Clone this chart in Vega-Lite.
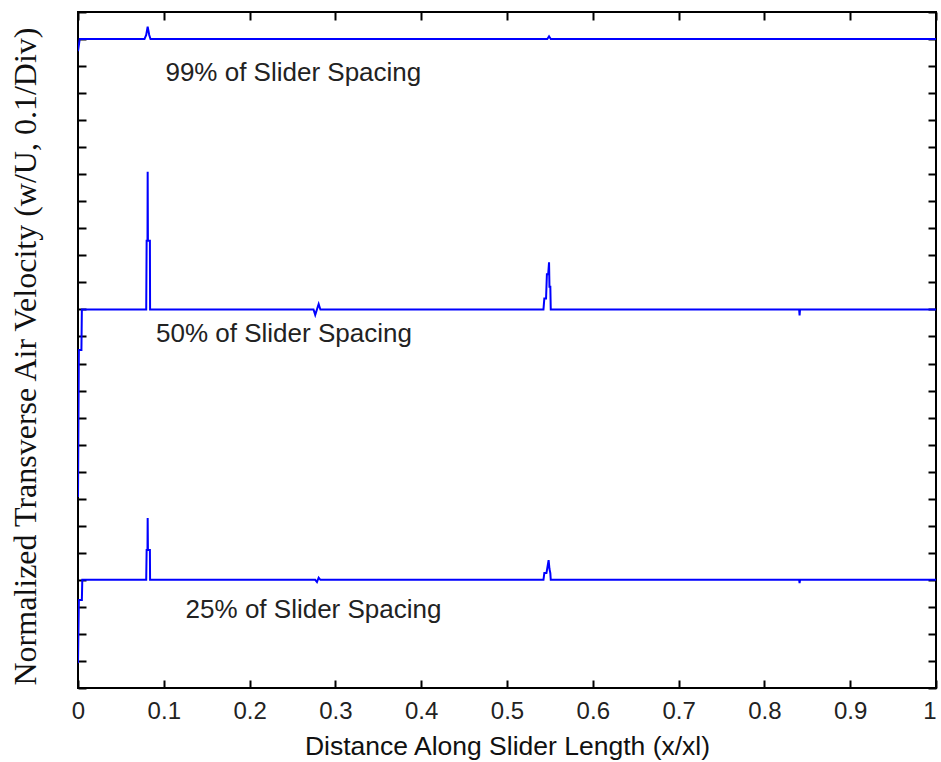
{
  "$schema": "https://vega.github.io/schema/vega-lite/v6.json",
  "width": 858,
  "height": 676,
  "autosize": {"type": "none"},
  "padding": {"left": 78, "top": 12, "right": 5, "bottom": 74},
  "background": "white",
  "config": {
    "view": {"stroke": "#000000", "strokeWidth": 2},
    "axis": {
      "domain": false,
      "grid": false,
      "tickColor": "#000000",
      "tickWidth": 2,
      "tickSize": -8,
      "labelFont": "Liberation Sans",
      "labelFontSize": 24,
      "labelColor": "#222222",
      "titleColor": "#111111",
      "titleFontWeight": "normal"
    }
  },
  "datasets": {
    "traces": [
      {"series": "99%", "x": 0, "v": 2.355},
      {"series": "99%", "x": 0.002, "v": 2.4},
      {"series": "99%", "x": 0.0775, "v": 2.4},
      {"series": "99%", "x": 0.0795, "v": 2.415},
      {"series": "99%", "x": 0.0812, "v": 2.446},
      {"series": "99%", "x": 0.083, "v": 2.415},
      {"series": "99%", "x": 0.0845, "v": 2.4},
      {"series": "99%", "x": 0.547, "v": 2.4},
      {"series": "99%", "x": 0.549, "v": 2.41},
      {"series": "99%", "x": 0.551, "v": 2.4},
      {"series": "99%", "x": 1, "v": 2.4},

      {"series": "50%", "x": 0, "v": 0.706},
      {"series": "50%", "x": 0.001, "v": 1.25},
      {"series": "50%", "x": 0.004, "v": 1.25},
      {"series": "50%", "x": 0.0045, "v": 1.4},
      {"series": "50%", "x": 0.0795, "v": 1.4},
      {"series": "50%", "x": 0.08, "v": 1.654},
      {"series": "50%", "x": 0.081, "v": 1.654},
      {"series": "50%", "x": 0.0812, "v": 1.909},
      {"series": "50%", "x": 0.0815, "v": 1.654},
      {"series": "50%", "x": 0.0838, "v": 1.654},
      {"series": "50%", "x": 0.084, "v": 1.4},
      {"series": "50%", "x": 0.2745, "v": 1.4},
      {"series": "50%", "x": 0.2765, "v": 1.38},
      {"series": "50%", "x": 0.2805, "v": 1.42},
      {"series": "50%", "x": 0.2825, "v": 1.4},
      {"series": "50%", "x": 0.5425, "v": 1.4},
      {"series": "50%", "x": 0.5435, "v": 1.44},
      {"series": "50%", "x": 0.5455, "v": 1.44},
      {"series": "50%", "x": 0.5465, "v": 1.53},
      {"series": "50%", "x": 0.548, "v": 1.53},
      {"series": "50%", "x": 0.549, "v": 1.574},
      {"series": "50%", "x": 0.5495, "v": 1.484},
      {"series": "50%", "x": 0.5505, "v": 1.484},
      {"series": "50%", "x": 0.551, "v": 1.4},
      {"series": "50%", "x": 0.8405, "v": 1.4},
      {"series": "50%", "x": 0.841, "v": 1.378},
      {"series": "50%", "x": 0.8415, "v": 1.4},
      {"series": "50%", "x": 1, "v": 1.4},

      {"series": "25%", "x": 0, "v": 0.092},
      {"series": "25%", "x": 0.001, "v": 0.325},
      {"series": "25%", "x": 0.0045, "v": 0.325},
      {"series": "25%", "x": 0.005, "v": 0.4},
      {"series": "25%", "x": 0.0795, "v": 0.4},
      {"series": "25%", "x": 0.08, "v": 0.51},
      {"series": "25%", "x": 0.081, "v": 0.51},
      {"series": "25%", "x": 0.0812, "v": 0.629},
      {"series": "25%", "x": 0.0815, "v": 0.51},
      {"series": "25%", "x": 0.0838, "v": 0.51},
      {"series": "25%", "x": 0.084, "v": 0.4},
      {"series": "25%", "x": 0.2765, "v": 0.4},
      {"series": "25%", "x": 0.2785, "v": 0.392},
      {"series": "25%", "x": 0.2805, "v": 0.408},
      {"series": "25%", "x": 0.2825, "v": 0.4},
      {"series": "25%", "x": 0.5425, "v": 0.4},
      {"series": "25%", "x": 0.5435, "v": 0.425},
      {"series": "25%", "x": 0.546, "v": 0.425},
      {"series": "25%", "x": 0.5485, "v": 0.473},
      {"series": "25%", "x": 0.5495, "v": 0.44},
      {"series": "25%", "x": 0.5505, "v": 0.425},
      {"series": "25%", "x": 0.551, "v": 0.4},
      {"series": "25%", "x": 0.8405, "v": 0.4},
      {"series": "25%", "x": 0.841, "v": 0.388},
      {"series": "25%", "x": 0.8415, "v": 0.4},
      {"series": "25%", "x": 1, "v": 0.4}
    ],
    "labels": [
      {"x": 0.251, "v": 2.274, "text": "99% of Slider Spacing"},
      {"x": 0.24, "v": 1.309, "text": "50% of Slider Spacing"},
      {"x": 0.2745, "v": 0.288, "text": "25% of Slider Spacing"}
    ]
  },
  "layer": [
    {
      "data": {"name": "traces"},
      "mark": {"type": "line", "color": "#0000ff", "strokeWidth": 2, "clip": true},
      "encoding": {
        "x": {
          "field": "x",
          "type": "quantitative",
          "scale": {"domain": [0, 1], "nice": false, "zero": false},
          "axis": {
            "orient": "bottom",
            "values": [0, 0.1, 0.2, 0.3, 0.4, 0.5, 0.6, 0.7, 0.8, 0.9, 1],
            "format": ".1~f",
            "labelPadding": 19,
            "labelFlush": false,
            "labelAlign": {"condition": {"test": "datum.value == 1", "value": "right"}, "value": "center"},
            "title": "Distance Along Slider Length (x/xl)",
            "titleFont": "Liberation Sans",
            "titleFontSize": 26.5,
            "titleBaseline": "alphabetic",
            "titleY": 66
          }
        },
        "y": {
          "field": "v",
          "type": "quantitative",
          "scale": {"domain": [0, 2.5], "nice": false, "zero": false},
          "axis": {
            "orient": "left",
            "values": [0, 0.1, 0.2, 0.3, 0.4, 0.5, 0.6, 0.7, 0.8, 0.9, 1, 1.1, 1.2, 1.3, 1.4, 1.5, 1.6, 1.7, 1.8, 1.9, 2, 2.1, 2.2, 2.3, 2.4, 2.5],
            "labels": false,
            "title": "Normalized Transverse Air Velocity (w/U, 0.1/Div)",
            "titleFont": "Liberation Serif",
            "titleFontSize": 32,
            "titleAngle": -90,
            "titleAlign": "center",
            "titleBaseline": "alphabetic",
            "titleX": -43,
            "titleY": 344
          }
        },
        "detail": {"field": "series", "type": "nominal"}
      }
    },
    {
      "data": {"name": "labels"},
      "mark": {"type": "text", "font": "Liberation Sans", "fontSize": 26, "color": "#222222", "align": "center", "baseline": "middle"},
      "encoding": {
        "x": {
          "field": "x",
          "type": "quantitative",
          "axis": {
            "orient": "top",
            "values": [0, 0.1, 0.2, 0.3, 0.4, 0.5, 0.6, 0.7, 0.8, 0.9, 1],
            "labels": false,
            "title": null
          }
        },
        "y": {
          "field": "v",
          "type": "quantitative",
          "axis": {
            "orient": "right",
            "values": [0, 0.1, 0.2, 0.3, 0.4, 0.5, 0.6, 0.7, 0.8, 0.9, 1, 1.1, 1.2, 1.3, 1.4, 1.5, 1.6, 1.7, 1.8, 1.9, 2, 2.1, 2.2, 2.3, 2.4, 2.5],
            "labels": false,
            "title": null
          }
        },
        "text": {"field": "text", "type": "nominal"}
      }
    }
  ],
  "resolve": {"axis": {"x": "independent", "y": "independent"}}
}
